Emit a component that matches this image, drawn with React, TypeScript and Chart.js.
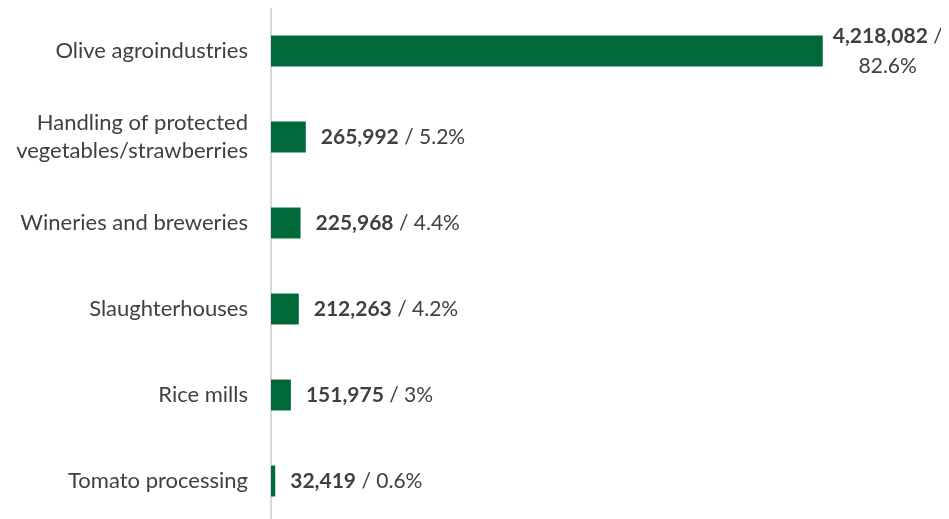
import React, { useEffect, useRef } from "react";
import { Chart, registerables } from "chart.js";

Chart.register(...registerables);

const categories: (string | string[])[] = [
  "Olive agroindustries",
  ["Handling of protected", "vegetables/strawberries"],
  "Wineries and breweries",
  "Slaughterhouses",
  "Rice mills",
  "Tomato processing",
];
const values = [4218082, 265992, 225968, 212263, 151975, 32419];
const percents = ["82.6%", "5.2%", "4.4%", "4.2%", "3%", "0.6%"];

const FONT = "Lato, 'Open Sans', sans-serif";
const TEXT = "#404040";
const BAR = "#00693A";

const labelPlugin = {
  id: "barLabels",
  afterDatasetsDraw(chart: any) {
    const ctx = chart.ctx;
    const meta = chart.getDatasetMeta(0);
    const size = 21;
    ctx.save();
    ctx.fillStyle = TEXT;
    ctx.textBaseline = "middle";
    meta.data.forEach((el: any, i: number) => {
      const v = values[i].toLocaleString("en-US");
      const bold = `bold ${size}px ${FONT}`;
      const norm = `${size}px ${FONT}`;
      ctx.font = bold;
      const wv = ctx.measureText(v).width;
      ctx.font = norm;
      const rest = " / " + percents[i];
      const wr = ctx.measureText(rest).width;
      let x = el.x + 15;
      if (x + wv + wr > chart.width - 4) {
        x = el.x + 10;
        const l1rest = " /";
        const w1 = wv + ctx.measureText(l1rest).width;
        const w2 = ctx.measureText(percents[i]).width;
        const maxW = Math.max(w1, w2);
        const cx = x + maxW / 2;
        const y1 = el.y - 15;
        const y2 = el.y + 15;
        ctx.textAlign = "left";
        ctx.font = bold;
        ctx.fillText(v, cx - w1 / 2, y1);
        ctx.font = norm;
        ctx.fillText(l1rest, cx - w1 / 2 + wv, y1);
        ctx.fillText(percents[i], cx - w2 / 2, y2);
      } else {
        ctx.textAlign = "left";
        ctx.font = bold;
        ctx.fillText(v, x, el.y);
        ctx.font = norm;
        ctx.fillText(rest, x + wv, el.y);
      }
    });
    ctx.restore();
  },
};

export default function App() {
  const ref = useRef<HTMLCanvasElement>(null);
  useEffect(() => {
    if (!ref.current) return;
    const chart = new Chart(ref.current, {
      type: "bar",
      data: {
        labels: categories as any,
        datasets: [
          {
            data: values,
            backgroundColor: BAR,
            borderWidth: 0,
            categoryPercentage: 1,
            barPercentage: 0.36,
          },
        ],
      },
      options: {
        indexAxis: "y",
        animation: false,
        responsive: false,
        maintainAspectRatio: false,
        layout: { padding: { top: 0, bottom: 0, left: 0, right: 16 } },
        plugins: { legend: { display: false }, tooltip: { enabled: false } },
        scales: {
          x: {
            display: false,
            min: 0,
            max: 5000000,
          },
          y: {
            afterFit(scale: any) {
              scale.width = 263;
              scale.paddingTop = 0;
              scale.paddingBottom = 0;
            },
            grid: { display: false, drawTicks: false },
            border: { display: true, color: "#D9D9D9", width: 2 },
            ticks: {
              color: TEXT,
              padding: 23,
              font: { family: FONT, size: 22, lineHeight: 1.27 },
            },
          },
        },
      },
      plugins: [labelPlugin],
    });
    return () => chart.destroy();
  }, []);
  return (
    <div style={{ width: 933, height: 516 }}>
      <canvas ref={ref} width={933} height={516} style={{ display: "block" }} />
    </div>
  );
}
